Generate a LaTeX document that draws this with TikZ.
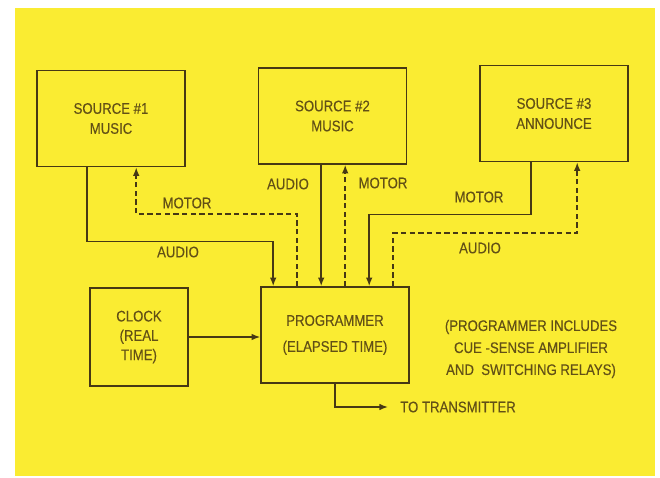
\documentclass[tikz,border=0pt]{standalone}
\usepackage{fontspec}
\setmainfont{Liberation Sans}[FakeStretch=0.86,FakeBold=0.3]
\usetikzlibrary{arrows.meta,calc,positioning}
\definecolor{panel}{RGB}{250,236,50}
\definecolor{ink}{RGB}{70,56,20}
\definecolor{printink}{RGB}{98,80,22}

\begin{document}
\begin{tikzpicture}[x=0.75pt,y=0.75pt,yscale=-1,xscale=1,
  blk/.style={draw=ink,line width=1.2pt,fill=panel,minimum width=111pt,minimum height=72pt,align=center,text=printink,font=\fontsize{11.5}{15}\selectfont},
  sig/.style={draw=ink,line width=1.1pt,-{Latex[length=6.5pt,width=5pt]}},
  ctl/.style={sig,dash pattern=on 4pt off 2.5pt},
  lbl/.style={text=printink,font=\fontsize{11.5}{12}\selectfont,inner sep=1pt}]
\useasboundingbox (0,0) rectangle (660,478);

%Shape: Rectangle [background]
\fill[white] (0,0) rectangle (660,478);
\fill[panel] (15,8) rectangle (655,476);

%Shape: Rectangle [sources]
\node[blk] (src1) at (111,118.5) {SOURCE \#1\\MUSIC};
\node[blk] (src2) at (332.5,116) {SOURCE \#2\\MUSIC};
\node[blk] (src3) at (554,113.5) {SOURCE \#3\\ANNOUNCE};
%Shape: Rectangle [clock, programmer]
\node[blk,minimum width=73.5pt,minimum height=73.5pt,font=\fontsize{11.5}{14.5}\selectfont] (clock) at (139,337) {CLOCK\\(REAL\\TIME)};
\node[blk] (prog) at (335,335) {PROGRAMMER\\[4.5pt](ELAPSED TIME)};

% taps on the programmer and the sources
\foreach \i in {1,...,6}
  \coordinate (p\i) at ($(prog.north west)+(24*\i-11,0)$);
\coordinate (s1a) at ($(src1.south west)+(51,0)$);
\coordinate (s1m) at ($(src1.south west)+(100,0)$);
\coordinate (s3m) at ($(src3.south west)+(52,0)$);
\coordinate (s3a) at ($(src3.south west)+(98,0)$);
\coordinate (tap) at ($(prog.south west)+(75,0)$);

%Straight Lines [audio and motor]
\draw[sig] (s1a) -- ++(0,74) -| (p1);
\draw[ctl] (p2) -- ++(0,-72) -| (s1m);
\draw[sig] (p3 |- src2.south) -- (p3);
\draw[ctl] (p4) -- (p4 |- src2.south);
\draw[sig] (s3m) -- ++(0,52) -| (p5);
\draw[ctl] (p6) -- ++(0,-53) -| (s3a);
\draw[sig] (clock.east) -- (clock.east -| prog.west);

% Text Node
\node[lbl] (m1) at (187,203) {MOTOR};
% Text Node
\node[lbl] (a1) at (178,252) {AUDIO};
% Text Node
\node[lbl] (a2) at (288,184) {AUDIO};
% Text Node
\node[lbl] (m2) at (383,183) {MOTOR};
% Text Node
\node[lbl] (m3) at (479,197) {MOTOR};
% Text Node
\node[lbl] (a3) at (480,248) {AUDIO};
% Text Node
\node[lbl,anchor=west,inner sep=0pt] (tx) at (400,407) {TO TRANSMITTER};
% Text Node
\node[lbl,align=center,font=\fontsize{11.5}{16.5}\selectfont] (note) at (531,349) {(PROGRAMMER INCLUDES\\CUE -SENSE AMPLIFIER\\AND\ \ SWITCHING RELAYS)};

\draw[sig] (tap) |- ([xshift=-9pt]tx.west);

\end{tikzpicture}
\end{document}
